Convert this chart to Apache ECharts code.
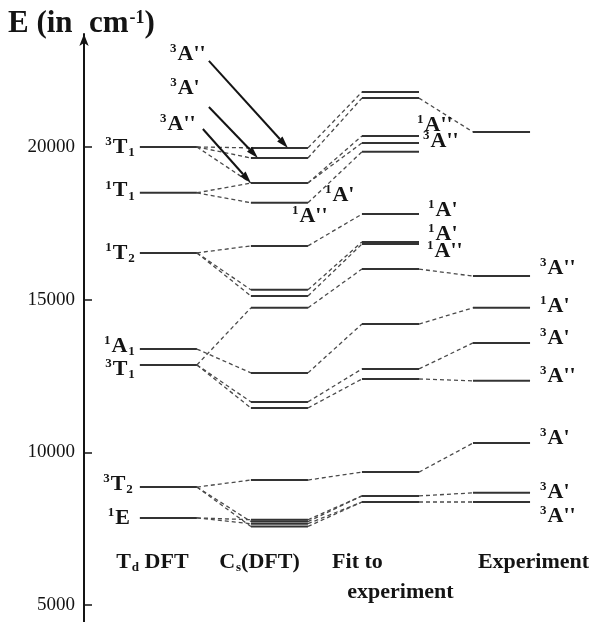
<!DOCTYPE html>
<html>
<head>
<meta charset="utf-8">
<script src="https://cdn.jsdelivr.net/npm/echarts@6/dist/echarts.min.js"></script>
<style>
  html, body { margin: 0; padding: 0; background: #fff; }
  #chart { width: 598px; height: 622px; }
</style>
</head>
<body>
<div id="chart"></div>
<script>
// Energy levels in cm^-1, one list per column of the correlation diagram
const columns = ['T_d DFT', 'C_s(DFT)', 'Fit to\nexperiment', 'Experiment'];
const tdLevels = [20000, 18500, 16530, 13380, 12860, 8860, 7850];
const tdNames = ['3T1', '1T1', '1T2', '1A1', '3T1', '3T2', '1E'];
const csLevels = [19970, 19640, 18820, 18170, 16760, 15320, 15120, 14730, 12600, 11650, 11450, 9090, 7790, 7730, 7660, 7570];
const fitLevels = [21800, 21600, 20360, 20130, 19840, 17800, 16890, 16820, 16000, 14200, 12730, 12400, 9350, 8570, 8370];
const expLevels = [20490, 15770, 14730, 13580, 12340, 10300, 8670, 8370];
const yTicks = [5000, 10000, 15000, 20000];

// Correlation links between neighbouring columns: [index in left column, index in right column]
const tdToCs = [[0, 0], [0, 1], [0, 2], [1, 2], [1, 3], [2, 4], [2, 5], [2, 6], [3, 8], [4, 7], [4, 9], [4, 10], [5, 11], [5, 13], [5, 15], [6, 12], [6, 14]];
const csToFit = [[0, 0], [1, 1], [2, 2], [2, 3], [3, 4], [4, 5], [5, 6], [6, 7], [7, 8], [8, 9], [9, 10], [10, 11], [11, 12], [12, 13], [13, 13], [14, 14], [15, 14]];
const fitToExp = [[1, 0], [8, 1], [9, 2], [10, 3], [11, 4], [12, 5], [13, 6], [14, 7]];

// State names written next to levels: [column, level index, name]
const stateLabels = [
  [0, 0, '3T1'], [0, 1, '1T1'], [0, 2, '1T2'], [0, 3, '1A1'], [0, 4, '3T1'], [0, 5, '3T2'], [0, 6, '1E'],
  [1, 2, "1A'"], [1, 3, "1A''"],
  [2, 2, "1A''"], [2, 3, "3A''"], [2, 5, "1A'"], [2, 6, "1A'"], [2, 7, "1A''"],
  [3, 1, "3A''"], [3, 2, "1A'"], [3, 3, "3A'"], [3, 4, "3A''"], [3, 5, "3A'"], [3, 6, "3A'"], [3, 7, "3A''"]
];
// Arrowed names for the C_s triplet components: [level index in C_s column, name]
const arrowLabels = [[0, "3A''"], [1, "3A'"], [2, "3A''"]];

// ---- layout ----
const SERIF = "'Liberation Serif', 'Times New Roman', serif";
const INK = '#141414';
const HW = 0.257;                 // half length of a level bar, in column units
const colLevels = [tdLevels, csLevels, fitLevels, expLevels];

// placement of state names: [side of the bar, dx, dy] in pixels
const stateLabelPos = [
  ['L', -5, 0], ['L', -5, -2], ['L', -5, 0], ['L', -5, -3], ['L', -5, 4], ['L', -7, -3], ['L', -10, 0],
  ['R', 17, 12], ['R', -16, 13],
  ['R', -2, -11], ['R', 4, -2], ['R', 9, -4], ['R', 9, -8], ['R', 8, 7],
  ['R', 10, -8], ['R', 10, -2], ['R', 10, -5], ['R', 10, -5], ['R', 10, -5], ['R', 10, -1], ['R', 10, 14]
];
// arrows: tip offset along the bar, start offset from the tip, label offset from the tip
const arrowPos = [
  { tip: 37, dx: -79, dy: -87, lx: -100, ly: -94 },
  { tip: 7, dx: -49, dy: -51, lx: -73, ly: -70 },
  { tip: 0, dx: -48, dy: -54, lx: -73, ly: -59 }
];

const RICH = {
  main: { fontFamily: SERIF, fontWeight: 'bold', fontSize: 22, lineHeight: 24, fill: INK, color: INK },
  sup: { fontFamily: SERIF, fontWeight: 'bold', fontSize: 13, lineHeight: 13, padding: [0, 1, 11, 0], fill: INK, color: INK },
  sub: { fontFamily: SERIF, fontWeight: 'bold', fontSize: 13, lineHeight: 13, padding: [12, 0, 0, 1], fill: INK, color: INK }
};

function stateText(n) {
  let body = n.slice(1), sub = '';
  if (/[0-9]$/.test(body)) { sub = body.slice(-1); body = body.slice(0, -1); }
  return '{sup|' + n[0] + '}{main|' + body + '}' + (sub ? '{sub|' + sub + '}' : '');
}
function columnText(s) {
  return '{main|' + s.replace(/_(\w)/, '}{sub|$1}{main|') + '}';
}

const levelData = [];
colLevels.forEach((arr, c) => arr.forEach(e => levelData.push([c, e])));

const linkData = [];
[tdToCs, csToFit, fitToExp].forEach((links, c) => {
  links.forEach(([a, b]) => linkData.push([c, colLevels[c][a], c + 1, colLevels[c + 1][b]]));
});

const labelData = stateLabels.map(([c, i]) => [c, colLevels[c][i]]);
const arrowData = arrowLabels.map(([i]) => [1, csLevels[i]]);

const chart = echarts.init(document.getElementById('chart'));

chart.setOption({
  animation: false,
  backgroundColor: '#fff',
  grid: { left: 84, right: 7, top: 34, bottom: 0, outerBoundsMode: 'none', containLabel: false },
  xAxis: { type: 'value', min: -0.76, max: 3.806, show: false },
  yAxis: {
    type: 'value', min: 4440, max: 23700,
    axisLine: { show: true, onZero: false, symbol: ['none', 'arrow'], symbolSize: [7, 12],
      lineStyle: { color: INK, width: 2 } },
    axisTick: { show: true, inside: true, length: 8, customValues: yTicks, lineStyle: { color: INK, width: 1.5 } },
    axisLabel: { customValues: yTicks, margin: 9, fontFamily: SERIF, fontSize: 19, color: INK,
      formatter: v => String(v) },
    splitLine: { show: false }
  },
  series: [
    {
      // dashed correlation lines
      type: 'custom', silent: true, clip: false, data: linkData,
      encode: { x: [0, 2], y: [1, 3] },
      renderItem: (params, api) => {
        const p1 = api.coord([api.value(0) + HW, api.value(1)]);
        const p2 = api.coord([api.value(2) - HW, api.value(3)]);
        return { type: 'line', shape: { x1: p1[0], y1: p1[1], x2: p2[0], y2: p2[1] },
          style: { stroke: '#4a4a4a', lineWidth: 1.3, lineDash: [4, 3] } };
      }
    },
    {
      // energy level bars
      type: 'custom', silent: true, clip: false, data: levelData,
      encode: { x: 0, y: 1 },
      renderItem: (params, api) => {
        const c = api.value(0), e = api.value(1);
        const p1 = api.coord([c - HW, e]), p2 = api.coord([c + HW, e]);
        return { type: 'line', shape: { x1: p1[0], y1: p1[1], x2: p2[0], y2: p2[1] },
          style: { stroke: '#333', lineWidth: 2 } };
      }
    },
    {
      // state names
      type: 'custom', silent: true, clip: false, data: labelData,
      encode: { x: 0, y: 1 },
      renderItem: (params, api) => {
        const i = params.dataIndex;
        const [side, dx, dy] = stateLabelPos[i];
        const c = api.value(0), e = api.value(1);
        const p = api.coord([side === 'L' ? c - HW : c + HW, e]);
        return { type: 'text', x: p[0] + dx, y: p[1] + dy,
          style: { text: stateText(stateLabels[i][2]), rich: RICH,
            align: side === 'L' ? 'right' : 'left', verticalAlign: 'middle' } };
      }
    },
    {
      // arrows pointing at the C_s triplet components
      type: 'custom', silent: true, clip: false, data: arrowData,
      encode: { x: 0, y: 1 },
      renderItem: (params, api) => {
        const a = arrowPos[params.dataIndex];
        const tip = api.coord([api.value(0) - HW, api.value(1)]);
        tip[0] += a.tip;
        const start = [tip[0] + a.dx, tip[1] + a.dy];
        const ang = Math.atan2(tip[1] - start[1], tip[0] - start[0]);
        const L = 12, W = 3.6;
        const base = [tip[0] - L * Math.cos(ang), tip[1] - L * Math.sin(ang)];
        const left = [base[0] + W * Math.sin(ang), base[1] - W * Math.cos(ang)];
        const right = [base[0] - W * Math.sin(ang), base[1] + W * Math.cos(ang)];
        return { type: 'group', children: [
          { type: 'line', shape: { x1: start[0], y1: start[1], x2: base[0], y2: base[1] },
            style: { stroke: INK, lineWidth: 2 } },
          { type: 'polygon', shape: { points: [tip, left, right] }, style: { fill: INK } },
          { type: 'text', x: tip[0] + a.lx, y: tip[1] + a.ly,
            style: { text: stateText(arrowLabels[params.dataIndex][1]), rich: RICH,
              align: 'center', verticalAlign: 'middle' } }
        ] };
      }
    }
  ]
});

// axis title and column captions
const colX = c => chart.convertToPixel({ gridIndex: 0 }, [c, 10000])[0];
const captionPos = [[-16, 562], [-20, 562], [-33, 562, 10, 592], [32, 562]];
const graphics = [
  { type: 'text', x: 8, y: 24, style: { text: 'E (in', font: 'bold 31px ' + SERIF, fill: INK, verticalAlign: 'middle' } },
  { type: 'text', x: 89, y: 24, style: { text: '{m|cm}{s|-1}{m|)}', verticalAlign: 'middle',
      rich: { m: { fontFamily: SERIF, fontWeight: 'bold', fontSize: 31, lineHeight: 32, fill: INK },
              s: { fontFamily: SERIF, fontWeight: 'bold', fontSize: 18, lineHeight: 18, padding: [0, 0, 12, 1], fill: INK } } } }
];
columns.forEach((name, c) => {
  const lines = name.split('\n');
  const pos = captionPos[c];
  lines.forEach((ln, k) => {
    graphics.push({ type: 'text', x: colX(c) + pos[2 * k], y: pos[2 * k + 1],
      style: { text: columnText(ln), rich: RICH, align: 'center', verticalAlign: 'middle' } });
  });
});
chart.setOption({ graphic: graphics });
</script>
</body>
</html>
